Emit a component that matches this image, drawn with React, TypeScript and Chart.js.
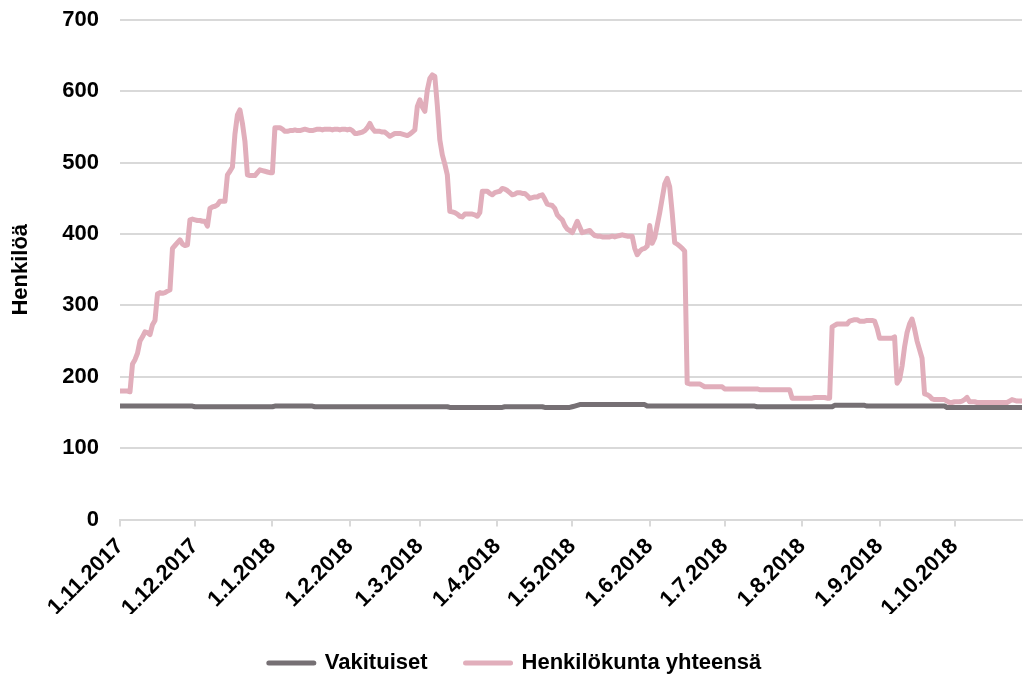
import { useEffect, useRef } from 'react';
import { Chart, registerables } from 'chart.js';

Chart.register(...registerables);

const START_DATE = [2017, 10, 1]; // year, month (0-based), day
const MONTH_TICKS = [
  '1.11.2017', '1.12.2017', '1.1.2018', '1.2.2018', '1.3.2018', '1.4.2018',
  '1.5.2018', '1.6.2018', '1.7.2018', '1.8.2018', '1.9.2018', '1.10.2018',
];
const SERIES_NAMES = ['Vakituiset', 'Henkilökunta yhteensä'];
const Y_TITLE = 'Henkilöä';

// Daily values, 1.11.2017 onwards
const VAKITUISET = [
  159, 159, 159, 159, 159, 159, 159, 159, 159, 159,
  159, 159, 159, 159, 159, 159, 159, 159, 159, 159,
  159, 159, 159, 159, 159, 159, 159, 159, 159, 159,
  158, 158, 158, 158, 158, 158, 158, 158, 158, 158,
  158, 158, 158, 158, 158, 158, 158, 158, 158, 158,
  158, 158, 158, 158, 158, 158, 158, 158, 158, 158,
  158, 158, 159, 159, 159, 159, 159, 159, 159, 159,
  159, 159, 159, 159, 159, 159, 159, 159, 158, 158,
  158, 158, 158, 158, 158, 158, 158, 158, 158, 158,
  158, 158, 158, 158, 158, 158, 158, 158, 158, 158,
  158, 158, 158, 158, 158, 158, 158, 158, 158, 158,
  158, 158, 158, 158, 158, 158, 158, 158, 158, 158,
  158, 158, 158, 158, 158, 158, 158, 158, 158, 158,
  158, 158, 157, 157, 157, 157, 157, 157, 157, 157,
  157, 157, 157, 157, 157, 157, 157, 157, 157, 157,
  157, 157, 157, 157, 158, 158, 158, 158, 158, 158,
  158, 158, 158, 158, 158, 158, 158, 158, 158, 158,
  157, 157, 157, 157, 157, 157, 157, 157, 157, 157,
  157, 158, 159, 160, 161, 161, 161, 161, 161, 161,
  161, 161, 161, 161, 161, 161, 161, 161, 161, 161,
  161, 161, 161, 161, 161, 161, 161, 161, 161, 161,
  161, 159, 159, 159, 159, 159, 159, 159, 159, 159,
  159, 159, 159, 159, 159, 159, 159, 159, 159, 159,
  159, 159, 159, 159, 159, 159, 159, 159, 159, 159,
  159, 159, 159, 159, 159, 159, 159, 159, 159, 159,
  159, 159, 159, 159, 159, 158, 158, 158, 158, 158,
  158, 158, 158, 158, 158, 158, 158, 158, 158, 158,
  158, 158, 158, 158, 158, 158, 158, 158, 158, 158,
  158, 158, 158, 158, 158, 158, 160, 160, 160, 160,
  160, 160, 160, 160, 160, 160, 160, 160, 160, 159,
  159, 159, 159, 159, 159, 159, 159, 159, 159, 159,
  159, 159, 159, 159, 159, 159, 159, 159, 159, 159,
  159, 159, 159, 159, 159, 159, 159, 159, 159, 159,
  159, 157, 157, 157, 157, 157, 157, 157, 157, 157,
  157, 157, 157, 157, 157, 157, 157, 157, 157, 157,
  157, 157, 157, 157, 157, 157, 157, 157, 157, 157,
  157, 157,
];

const HENKILOKUNTA = [
  180, 180, 180, 180, 179, 218, 224, 233, 250, 256,
  263, 262, 259, 273, 279, 316, 318, 317, 318, 320,
  322, 380, 384, 388, 392, 386, 384, 385, 420, 421,
  420, 419, 419, 418, 418, 411, 436, 438, 439, 441,
  446, 446, 446, 483, 488, 494, 540, 567, 574, 555,
  530, 483, 482, 482, 482, 486, 490, 489, 488, 487,
  486, 486, 549, 549, 549, 547, 544, 544, 545, 545,
  546, 545, 545, 546, 547, 546, 545, 545, 546, 547,
  547, 546, 547, 547, 547, 546, 547, 547, 546, 547,
  547, 546, 547, 545, 541, 541, 542, 543, 545, 549,
  555, 548, 544, 544, 544, 543, 543, 540, 537, 539,
  541, 541, 541, 540, 539, 538, 540, 543, 546, 579,
  588, 578, 572, 602, 618, 623, 621, 580, 532, 511,
  498, 483, 432, 431, 430, 428, 425, 424, 428, 428,
  428, 428, 427, 425, 430, 460, 460, 460, 457, 455,
  458, 459, 460, 464, 463, 461, 458, 455, 456, 458,
  458, 457, 457, 454, 450, 451, 452, 452, 454, 455,
  449, 442, 441, 440, 436, 427, 423, 420, 412, 407,
  405, 402, 410, 418, 410, 402, 403, 404, 405, 401,
  398, 397, 397, 396, 396, 396, 396, 397, 396, 397,
  398, 399, 398, 397, 397, 397, 380, 371, 376, 379,
  380, 383, 412, 387, 395, 412, 430, 450, 470, 478,
  466, 430, 388, 386, 383, 380, 376, 191, 190, 190,
  190, 190, 190, 188, 186, 186, 186, 186, 186, 186,
  186, 186, 183, 183, 183, 183, 183, 183, 183, 183,
  183, 183, 183, 183, 183, 183, 182, 182, 182, 182,
  182, 182, 182, 182, 182, 182, 182, 182, 182, 170,
  170, 170, 170, 170, 170, 170, 170, 170, 171, 171,
  171, 171, 171, 170, 170, 270, 272, 274, 274, 274,
  274, 274, 278, 279, 280, 280, 278, 278, 278, 279,
  279, 279, 278, 268, 254, 254, 254, 254, 254, 254,
  256, 191, 196, 215, 242, 262, 274, 281, 267, 250,
  238, 226, 176, 175, 173, 169, 168, 168, 168, 168,
  168, 166, 164, 164, 165, 165, 165, 166, 168, 171,
  165, 165, 165, 164, 164, 164, 164, 164, 164, 164,
  164, 164, 164, 164, 164, 164, 166, 168, 167, 166,
  166, 166,
];

const Y_MIN = 0;
const Y_MAX = 700;
const Y_STEP = 100;

const COLOR_VAK = '#767074';
const COLOR_HEN = '#E1AEBB';
const GRID = '#d9d9d9';
const FONT_FAMILY = '"Liberation Sans", Arial, Helvetica, sans-serif';

function buildCategories(n: number): string[] {
  const out: string[] = [];
  for (let i = 0; i < n; i++) {
    const d = new Date(Date.UTC(START_DATE[0], START_DATE[1], START_DATE[2] + i));
    out.push(`${d.getUTCDate()}.${d.getUTCMonth() + 1}.${d.getUTCFullYear()}`);
  }
  return out;
}

export default function App() {
  const ref = useRef<HTMLCanvasElement | null>(null);

  useEffect(() => {
    if (!ref.current) return;
    const labels = buildCategories(HENKILOKUNTA.length);
    const font = { family: FONT_FAMILY, size: 22, weight: 'bold' as const };
    const chart = new Chart(ref.current, {
      type: 'line',
      data: {
        labels,
        datasets: [
          {
            label: SERIES_NAMES[0],
            data: VAKITUISET,
            borderColor: COLOR_VAK,
            backgroundColor: COLOR_VAK,
            borderWidth: 5,
            pointRadius: 0,
            tension: 0,
            borderJoinStyle: 'round',
            order: 1,
          },
          {
            label: SERIES_NAMES[1],
            data: HENKILOKUNTA,
            borderColor: COLOR_HEN,
            backgroundColor: COLOR_HEN,
            borderWidth: 5,
            pointRadius: 0,
            tension: 0,
            borderJoinStyle: 'round',
            order: 0,
          },
        ],
      },
      options: {
        responsive: false,
        animation: false,
        layout: { padding: { top: 20, left: 8, right: 2, bottom: -5 } },
        plugins: {
          tooltip: { enabled: false },
          legend: {
            position: 'bottom',
            labels: {
              font,
              color: '#000',
              boxWidth: 45,
              boxHeight: 0,
              padding: 38,
              sort: (a: any, b: any) => a.datasetIndex - b.datasetIndex,
            },
          },
        },
        scales: {
          x: {
            type: 'category',
            offset: false,
            grid: {
              drawOnChartArea: false,
              drawTicks: true,
              tickLength: 7,
              color: GRID,
              lineWidth: 2,
            },
            border: { display: true, color: GRID, width: 2 },
            ticks: {
              autoSkip: false,
              maxRotation: 45,
              minRotation: 45,
              padding: 7,
              color: '#000',
              font,
              callback: function (this: any, value: any) {
                const lbl = this.getLabelForValue(value);
                return MONTH_TICKS.includes(lbl) ? lbl : null;
              },
            },
            afterFit: (s: any) => {
              s.height = 94.5;
              s.paddingLeft = 0;
              s.paddingRight = 0;
            },
          },
          y: {
            min: Y_MIN,
            max: Y_MAX,
            grid: { color: GRID, lineWidth: 2, drawTicks: false },
            border: { display: false },
            ticks: { stepSize: Y_STEP, padding: 21, color: '#000', font },
            title: {
              display: true,
              text: Y_TITLE,
              color: '#000',
              font,
              padding: { top: 0, bottom: 0 },
            },
            afterFit: (s: any) => {
              s.width = 112;
              s.paddingTop = 0;
              s.paddingBottom = 0;
            },
          },
        },
      },
    });
    return () => chart.destroy();
  }, []);

  return (
    <div style={{ position: 'fixed', left: 0, top: 0, width: 1024, height: 679, background: '#fff' }}>
      <canvas ref={ref} width={1024} height={679} style={{ display: 'block' }} />
    </div>
  );
}
